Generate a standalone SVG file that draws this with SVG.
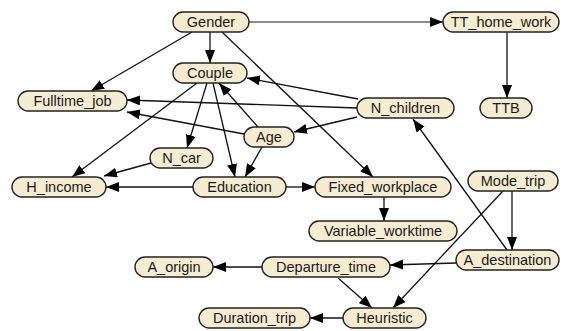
<svg xmlns="http://www.w3.org/2000/svg" width="565" height="331" viewBox="0 0 565 331">
<style>
.n rect{fill:#f6ecd2;stroke:#222;stroke-width:1.4}
.n text{font-family:"Liberation Sans",Arial,sans-serif;font-size:14.5px;fill:#1a1a1a;text-anchor:middle}
.e line{stroke:#111;stroke-width:1.3;fill:none;marker-end:url(#a)}
.e line.g{stroke:#666;marker-end:url(#ag)}
</style>
<defs>
<marker id="a" markerUnits="userSpaceOnUse" markerWidth="14" markerHeight="11" refX="13" refY="5" orient="auto"><path d="M0,0 L13,5 L0,10 z" fill="#000"/></marker>
<marker id="ag" markerUnits="userSpaceOnUse" markerWidth="14" markerHeight="11" refX="13" refY="5" orient="auto"><path d="M0,0 L13,5 L0,10 z" fill="#000"/></marker>
</defs>
<rect width="565" height="331" fill="#fff"/>
<g id="connectors" class="e">
<line class="g" x1="249" y1="22" x2="443" y2="22"/>
<line x1="210" y1="32" x2="210" y2="63"/>
<line x1="192" y1="32" x2="91" y2="91"/>
<line x1="222" y1="32" x2="373" y2="177"/>
<line x1="207" y1="83" x2="187" y2="148"/>
<line x1="213" y1="83" x2="235" y2="177"/>
<line x1="197" y1="83" x2="72" y2="177"/>
<line x1="358" y1="99" x2="247" y2="78"/>
<line x1="357" y1="108" x2="127" y2="100"/>
<line x1="357" y1="117" x2="294" y2="132"/>
<line x1="258" y1="127" x2="219" y2="83"/>
<line x1="244" y1="134" x2="127" y2="112"/>
<line x1="262" y1="147" x2="245" y2="177"/>
<line x1="151" y1="163" x2="104" y2="176"/>
<line x1="193" y1="187" x2="106" y2="187"/>
<line x1="286" y1="187" x2="315" y2="187"/>
<line x1="384" y1="197" x2="384" y2="221"/>
<line x1="507" y1="32" x2="507" y2="98"/>
<line x1="507" y1="250" x2="413" y2="119"/>
<line x1="512" y1="191" x2="512" y2="250"/>
<line x1="503" y1="191" x2="393" y2="308"/>
<line x1="456" y1="263" x2="390" y2="265"/>
<line x1="262" y1="267" x2="213" y2="267"/>
<line x1="338" y1="278" x2="372" y2="308"/>
<line x1="343" y1="318" x2="310" y2="318"/>
</g>
<g id="Gender" class="n"><rect x="173" y="12" width="76" height="20" rx="10"/><text x="211" y="27">Gender</text></g>
<g id="TT_home_work" class="n"><rect x="443" y="12" width="116" height="20" rx="10"/><text x="501" y="27">TT_home_work</text></g>
<g id="Couple" class="n"><rect x="173" y="63" width="74" height="20" rx="10"/><text x="210" y="78">Couple</text></g>
<g id="Fulltime_job" class="n"><rect x="18" y="91" width="109" height="20" rx="10"/><text x="72.5" y="106">Fulltime_job</text></g>
<g id="N_children" class="n"><rect x="357" y="98" width="97" height="20" rx="10"/><text x="405.5" y="113">N_children</text></g>
<g id="TTB" class="n"><rect x="480" y="98" width="52" height="20" rx="10"/><text x="506" y="113">TTB</text></g>
<g id="Age" class="n"><rect x="244" y="127" width="50" height="20" rx="10"/><text x="269" y="142">Age</text></g>
<g id="N_car" class="n"><rect x="150" y="148" width="63" height="20" rx="10"/><text x="181.5" y="163">N_car</text></g>
<g id="H_income" class="n"><rect x="12" y="177" width="94" height="20" rx="10"/><text x="59" y="192">H_income</text></g>
<g id="Education" class="n"><rect x="193" y="177" width="93" height="20" rx="10"/><text x="239.5" y="192">Education</text></g>
<g id="Fixed_workplace" class="n"><rect x="315" y="177" width="136" height="20" rx="10"/><text x="383" y="192">Fixed_workplace</text></g>
<g id="Mode_trip" class="n"><rect x="468" y="171" width="90" height="20" rx="10"/><text x="513" y="186">Mode_trip</text></g>
<g id="Variable_worktime" class="n"><rect x="309" y="221" width="148" height="20" rx="10"/><text x="383" y="236">Variable_worktime</text></g>
<g id="A_destination" class="n"><rect x="456" y="250" width="103" height="20" rx="10"/><text x="507.5" y="265">A_destination</text></g>
<g id="Departure_time" class="n"><rect x="262" y="257" width="128" height="20" rx="10"/><text x="326" y="272">Departure_time</text></g>
<g id="A_origin" class="n"><rect x="135" y="257" width="78" height="20" rx="10"/><text x="174" y="272">A_origin</text></g>
<g id="Heuristic" class="n"><rect x="343" y="308" width="83" height="20" rx="10"/><text x="384.5" y="323">Heuristic</text></g>
<g id="Duration_trip" class="n"><rect x="199" y="308" width="111" height="20" rx="10"/><text x="254.5" y="323">Duration_trip</text></g>
</svg>
